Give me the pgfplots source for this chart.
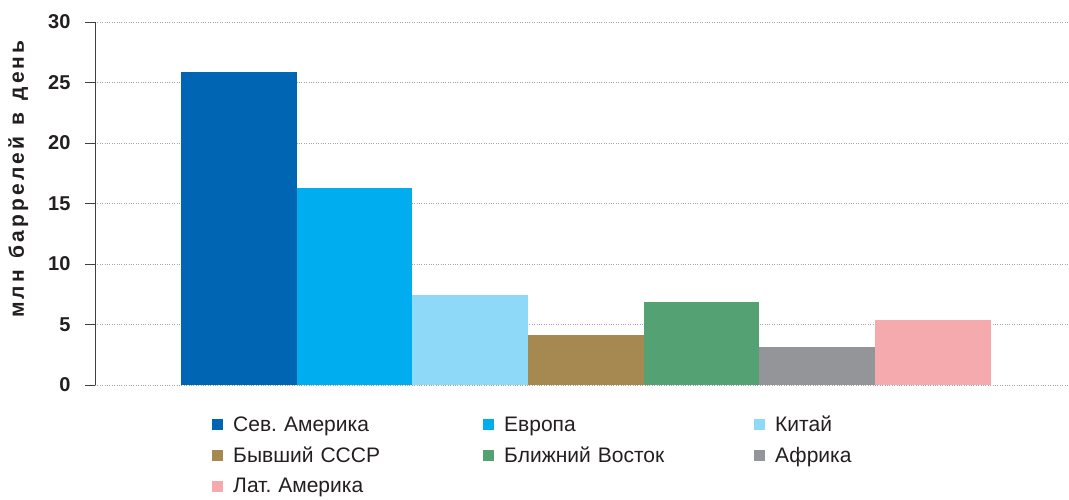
\documentclass[border=0pt]{standalone}
\usepackage{fontspec}
\setmainfont{Liberation Sans}
\newfontfamily\spacedfont[LetterSpace=15,WordSpace=1.3]{Liberation Sans}
\usepackage{pgfplots}
\pgfplotsset{compat=1.18}
\frenchspacing

\definecolor{cNA}{RGB}{0,102,179}
\definecolor{cEU}{RGB}{0,174,239}
\definecolor{cCN}{RGB}{142,216,248}
\definecolor{cSU}{RGB}{166,137,81}
\definecolor{cME}{RGB}{84,161,116}
\definecolor{cAF}{RGB}{148,149,153}
\definecolor{cLA}{RGB}{245,170,173}
\definecolor{txt}{RGB}{35,31,32}

% square legend marker with a gap before the text
\pgfplotsset{sqleg/.style={legend image code/.code={\fill[##1] (0pt,-5.5pt) rectangle (11pt,5.5pt); \path (19pt,0pt);}}}

\begin{document}
\begin{tikzpicture}
\begin{axis}[
    scale only axis,
    width=973pt, height=363pt,
    xmin=-1.246, xmax=7.17,
    ymin=0, ymax=30,
    ytick={0,5,...,30},
    xtick=\empty,
    axis x line=none,
    axis y line*=left,
    ymajorgrids,
    grid style={dotted, color=gray!70, line width=0.8pt},
    major tick length=10pt,
    tick align=outside,
    y axis line style={color=black!75, line width=0.8pt},
    ytick style={color=black!75, line width=0.8pt},
    yticklabel style={font=\bfseries\fontsize{20}{20}\selectfont, text=txt, xshift=-11pt},
    /pgf/number format/assume math mode=true,
    ylabel={млн баррелей в день},
    ylabel style={at={(axis description cs:-0.079,0.567)}, anchor=center,
        font=\spacedfont\bfseries\fontsize{21}{21}\selectfont, text=txt},
    ybar, bar width=1, bar shift=0pt,
    legend columns=3,
    legend cell align=left,
    legend style={at={(axis description cs:0.1172,-0.074)}, anchor=north west,
        draw=none, fill=none,
        font=\fontsize{21}{21}\selectfont,
        nodes={text width=248pt, inner sep=2pt, text=txt},
        row sep=10pt},
]
\addplot[fill=cNA, draw=none, sqleg] coordinates {(0,25.9)};
\addplot[fill=cEU, draw=none, sqleg] coordinates {(1,16.3)};
\addplot[fill=cCN, draw=none, sqleg] coordinates {(2,7.4)};
\addplot[fill=cSU, draw=none, sqleg] coordinates {(3,4.1)};
\addplot[fill=cME, draw=none, sqleg] coordinates {(4,6.9)};
\addplot[fill=cAF, draw=none, sqleg] coordinates {(5,3.1)};
\addplot[fill=cLA, draw=none, sqleg] coordinates {(6,5.4)};
\legend{Сев. Америка, Европа, Китай, Бывший СССР, Ближний Восток, Африка, Лат. Америка}
\coordinate (O) at (rel axis cs:0,0);
\end{axis}
\pgfresetboundingbox
\path (O) ++(-95pt,-114pt) rectangle ++(1069pt,499pt);
\end{tikzpicture}
\end{document}
